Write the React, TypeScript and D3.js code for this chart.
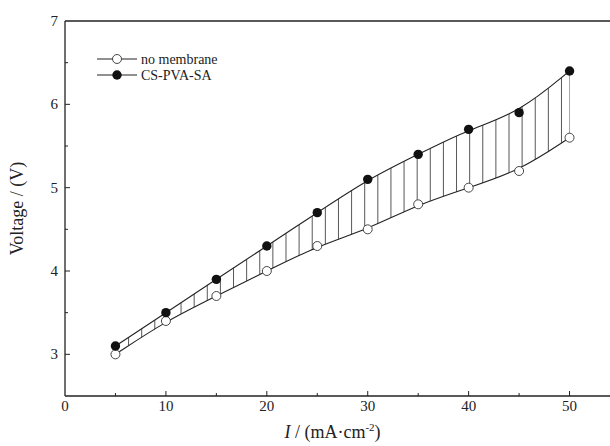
import React from 'react'
import * as d3 from 'd3'

const currents = [5, 10, 15, 20, 25, 30, 35, 40, 45, 50]
const noMembrane = [3.0, 3.4, 3.7, 4.0, 4.3, 4.5, 4.8, 5.0, 5.2, 5.6]
const csPvaSa = [3.1, 3.5, 3.9, 4.3, 4.7, 5.1, 5.4, 5.7, 5.9, 6.4]
const xTicks = [0, 10, 20, 30, 40, 50]
const xMinor = [5, 15, 25, 35, 45]
const yTicks = [3, 4, 5, 6, 7]
const yMinor = [3.5, 4.5, 5.5, 6.5]
const seriesNames = ['no membrane', 'CS-PVA-SA']

const W = 610
const H = 446
const left = 65
const top = 21
const bottom = 396

const App = () => {
  const x = d3.scaleLinear().domain([0, 55]).range([left, 620])
  const y = d3.scaleLinear().domain([2.5, 7]).range([bottom, top])

  const pts = currents.map((c, i) => ({ c, lo: noMembrane[i], hi: csPvaSa[i] }))
  const lineLo = d3.line<any>().x(d => x(d.c)).y(d => y(d.lo)).curve(d3.curveBasis)
  const lineHi = d3.line<any>().x(d => x(d.c)).y(d => y(d.hi)).curve(d3.curveBasis)
  const band = d3.area<any>().x(d => x(d.c)).y0(d => y(d.lo)).y1(d => y(d.hi)).curve(d3.curveBasis)

  // hatch positions (decoration only)
  const hatch = d3.range(5, 50.01, 1.3).concat([50])

  const font = "'Liberation Serif', 'DejaVu Serif', serif"

  return (
    <svg width={W} height={H} style={{ position: 'absolute', left: 0, top: 0, background: '#fff', fontFamily: font }}>
      <defs>
        <clipPath id="band">
          <path d={band(pts) || ''} />
        </clipPath>
      </defs>

      {/* frame */}
      <line x1={left} x2={W} y1={top} y2={top} stroke="#222" strokeWidth={1.3} />
      <line x1={left} x2={left} y1={top} y2={bottom} stroke="#222" strokeWidth={1.3} />
      <line x1={left} x2={W} y1={bottom} y2={bottom} stroke="#222" strokeWidth={1.3} />

      {/* x ticks */}
      {xTicks.map(t => (
        <g key={'xt' + t}>
          {t > 0 && <line x1={x(t)} x2={x(t)} y1={bottom} y2={bottom - 5} stroke="#222" />}
          <text x={x(t)} y={411} fontSize={15} textAnchor="middle" fill="#222">{t}</text>
        </g>
      ))}
      {xMinor.map(t => (
        <line key={'xm' + t} x1={x(t)} x2={x(t)} y1={bottom} y2={bottom - 3} stroke="#222" />
      ))}

      {/* y ticks */}
      {yTicks.map(t => (
        <g key={'yt' + t}>
          {t < 7 && <line x1={left} x2={left + 5} y1={y(t)} y2={y(t)} stroke="#222" />}
          <text x={58} y={y(t) + 5} fontSize={15} textAnchor="end" fill="#222">{t}</text>
        </g>
      ))}
      {yMinor.map(t => (
        <line key={'ym' + t} x1={left} x2={left + 3} y1={y(t)} y2={y(t)} stroke="#222" />
      ))}

      {/* hatching between curves */}
      <g clipPath="url(#band)">
        {hatch.map((h, i) => (
          <line key={'h' + i} x1={x(h)} x2={x(h)} y1={top} y2={bottom} stroke="#444" strokeWidth={0.9} />
        ))}
      </g>

      {/* curves */}
      <path d={lineLo(pts) || ''} fill="none" stroke="#222" strokeWidth={1.1} />
      <path d={lineHi(pts) || ''} fill="none" stroke="#222" strokeWidth={1.1} />

      {/* markers */}
      {pts.map(p => (
        <circle key={'lo' + p.c} cx={x(p.c)} cy={y(p.lo)} r={4.5} fill="#fff" stroke="#333" strokeWidth={0.9} />
      ))}
      {pts.map(p => (
        <circle key={'hi' + p.c} cx={x(p.c)} cy={y(p.hi)} r={4.7} fill="#111" />
      ))}

      {/* legend */}
      <g>
        <line x1={97} x2={137} y1={59} y2={59} stroke="#222" />
        <circle cx={117} cy={59} r={4.5} fill="#fff" stroke="#333" strokeWidth={0.9} />
        <text x={141} y={64} fontSize={14} fill="#222">{seriesNames[0]}</text>
        <line x1={97} x2={137} y1={75} y2={75} stroke="#222" />
        <circle cx={117} cy={75} r={4.7} fill="#111" />
        <text x={141} y={80} fontSize={14} fill="#222">{seriesNames[1]}</text>
      </g>

      {/* axis titles */}
      <text transform={`translate(23,${(top + bottom) / 2}) rotate(-90)`} fontSize={18} textAnchor="middle" fill="#222">
        Voltage / (V)
      </text>
      <text x={(left + 600) / 2} y={438} fontSize={18} textAnchor="middle" fill="#222">
        <tspan fontStyle="italic">I</tspan>
        <tspan> / (mA·cm</tspan>
        <tspan dy={-7} fontSize={11}>-2</tspan>
        <tspan dy={7}>)</tspan>
      </text>
    </svg>
  )
}

export default App
